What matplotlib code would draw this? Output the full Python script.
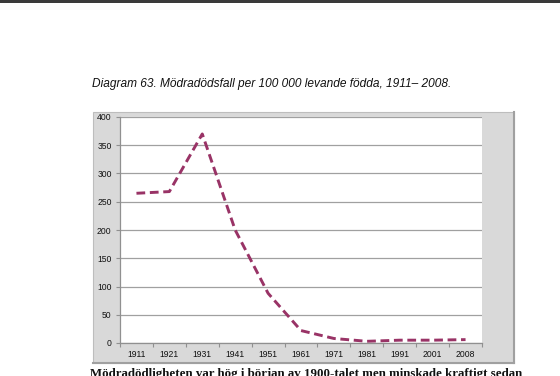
import numpy as np
import matplotlib
matplotlib.use("Agg")
import matplotlib.pyplot as plt
from matplotlib.patches import Rectangle

years = ["1911", "1921", "1931", "1941", "1951", "1961", "1971", "1981", "1991", "2001", "2008"]
deaths = [265, 268, 370, 200, 88, 22, 8, 3, 5, 5, 6]

title = "Diagram 63. Mödradödsfall per 100 000 levande födda, 1911\u2013 2008."
below = "Mödradödligheten var hög i början av 1900-talet men minskade kraftigt sedan"

W, H = 560, 376
fig = plt.figure(figsize=(W / 100, H / 100), dpi=100)
fig.patch.set_facecolor("white")

def fx(px):
    return px / W

def fy(py):
    return 1 - py / H

# dark strip at the very top of the page
fig.patches.append(Rectangle((0, fy(3)), 1, 3 / H, transform=fig.transFigure,
                             facecolor="#3a3a3a", edgecolor="none", zorder=-10))

# grey chart box with a darker shadow edge
fig.patches.append(Rectangle((fx(93), fy(363)), (514 - 93) / W, (363 - 112) / H,
                             transform=fig.transFigure, facecolor="#d9d9d9",
                             edgecolor="#bdbdbd", linewidth=0.8, zorder=-10))
fig.add_artist(plt.Line2D([fx(514), fx(514)], [fy(363), fy(112)], transform=fig.transFigure,
                          color="#a0a0a0", linewidth=1.5, zorder=-9))
fig.add_artist(plt.Line2D([fx(93), fx(514)], [fy(363), fy(363)], transform=fig.transFigure,
                          color="#a0a0a0", linewidth=1.5, zorder=-9))

fig.text(fx(92), fy(84), title, fontsize=8.6, style="italic",
         family="Liberation Sans", va="center", ha="left", color="#111111")

# first line of the page text, cut by the bottom edge as in the scan
fig.text(fx(90), fy(368), below, fontsize=9.3, family="Liberation Serif",
         weight="bold", va="top", ha="left", color="#111111")

ax = fig.add_axes([fx(120), fy(343), (482 - 120) / W, (343 - 117) / H])
ax.set_facecolor("white")

x = np.arange(len(years))
ax.plot(x, deaths, color="#993366", linewidth=2.1, linestyle=(0, (3.0, 1.6)),
        dash_capstyle="butt")

ax.set_xlim(-0.5, len(years) - 0.5)
ax.set_ylim(0, 400)
ax.set_yticks(np.arange(0, 401, 50))
ax.yaxis.grid(True, color="#a0a0a0", linewidth=0.9)
ax.set_axisbelow(True)

ax.set_xticks(np.arange(-0.5, len(years), 1))
ax.set_xticklabels([])
ax.set_xticks(x, minor=True)
ax.set_xticklabels(years, minor=True)
ax.tick_params(axis="x", which="major", length=3, color="#909090", direction="out")
ax.tick_params(axis="x", which="minor", length=0, pad=5)
ax.tick_params(axis="y", length=3, color="#909090", pad=3)
for lab in ax.get_xticklabels(minor=True) + ax.get_yticklabels():
    lab.set_fontsize(6.2)
    lab.set_family("Liberation Sans")
    lab.set_color("#111111")

for side in ["top", "right"]:
    ax.spines[side].set_visible(False)
for side in ["left", "bottom"]:
    ax.spines[side].set_color("#909090")
    ax.spines[side].set_linewidth(0.9)

fig.savefig("out.png", dpi=100)
